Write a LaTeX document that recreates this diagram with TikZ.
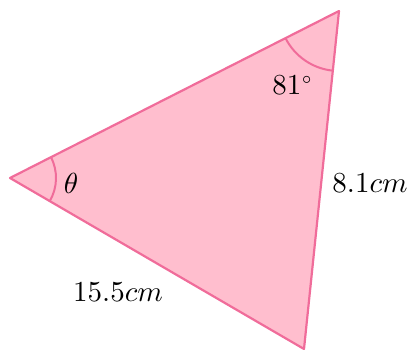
\documentclass[tikz,border=0pt]{standalone}
\usepackage{graphicx}
\usepackage{amsmath}
\usetikzlibrary{angles}
\definecolor{trifill}{RGB}{255,190,206}
\definecolor{triedge}{RGB}{240,108,154}
\newcommand{\biglab}[1]{\scalebox{2.9}{#1}}

\begin{document}
\begin{tikzpicture}[x=1pt,y=1pt,
  edge/.style={draw=triedge,line width=2.2pt,line join=round},
  anglemark/.style={draw=triedge,line width=2pt},
  lab/.style={inner sep=0pt}]
\useasboundingbox (0,0) rectangle (416,352);
% corners:
\coordinate (west) at (10,174);
\coordinate (north) at (339,341);
\coordinate (south) at (304,3);
% triangle:
\path[edge,fill=trifill] (west) -- (north) -- (south) -- cycle;
% angle marks:
\pic[anglemark,angle radius=46pt] {angle=south--west--north};
\pic[anglemark,angle radius=60pt] {angle=west--north--south};
% labels:
\node[lab] (theta) at (71,169) {\biglab{$\theta$}};
\node[lab] (top) at (293,267) {\biglab{$81^{\scriptscriptstyle\circ}$}};
\node[lab] (side) at (370,169) {\biglab{$8.1cm$}};
\node[lab] (base) at (118,60) {\biglab{$15.5cm$}};
\end{tikzpicture}
\end{document}
